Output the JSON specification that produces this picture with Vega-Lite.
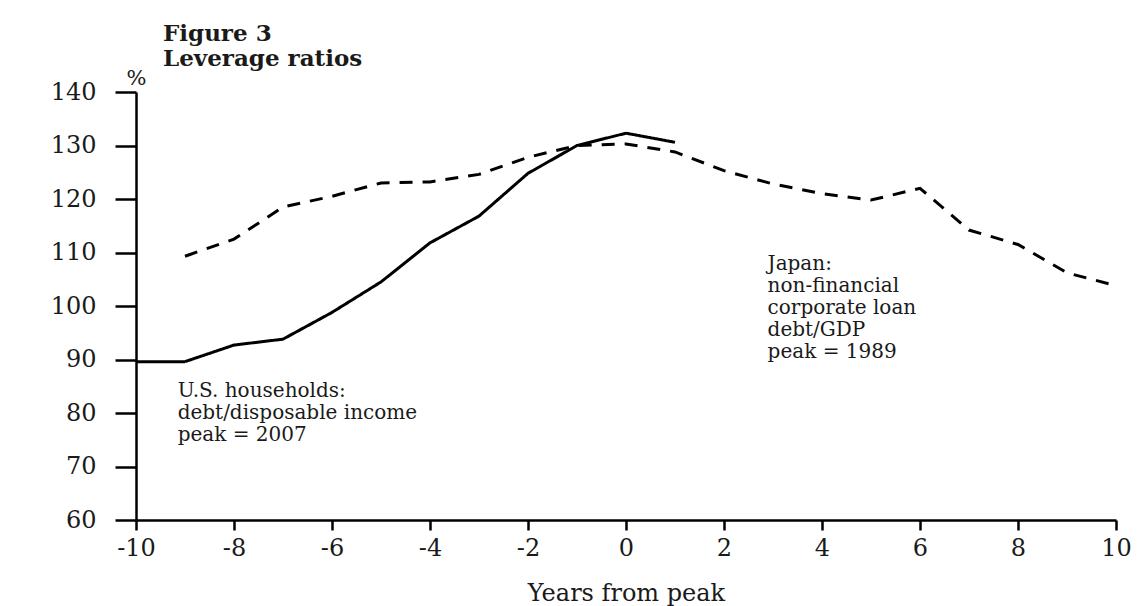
{
  "$schema": "https://vega.github.io/schema/vega-lite/v6.json",
  "autosize": {"type": "none"},
  "width": 980,
  "height": 428,
  "padding": {"left": 136, "top": 92, "right": 26, "bottom": 86},
  "background": "#ffffff",
  "title": {
    "text": ["Figure 3", "Leverage ratios"],
    "anchor": "start",
    "frame": "group",
    "dx": 27,
    "dy": 26,
    "offset": 22,
    "font": "DejaVu Serif",
    "fontSize": 23,
    "fontWeight": "bold",
    "lineHeight": 25,
    "color": "#1a1a1a"
  },
  "datasets": {
    "series": [
      {"year": -10, "value": 89.6, "series": "US households"},
      {"year": -9, "value": 89.6, "series": "US households"},
      {"year": -8, "value": 92.7, "series": "US households"},
      {"year": -7, "value": 93.8, "series": "US households"},
      {"year": -6, "value": 98.8, "series": "US households"},
      {"year": -5, "value": 104.5, "series": "US households"},
      {"year": -4, "value": 111.8, "series": "US households"},
      {"year": -3, "value": 116.8, "series": "US households"},
      {"year": -2, "value": 124.8, "series": "US households"},
      {"year": -1, "value": 130.0, "series": "US households"},
      {"year": 0, "value": 132.3, "series": "US households"},
      {"year": 1, "value": 130.6, "series": "US households"},
      {"year": -9, "value": 109.3, "series": "Japan corporate"},
      {"year": -8, "value": 112.5, "series": "Japan corporate"},
      {"year": -7, "value": 118.5, "series": "Japan corporate"},
      {"year": -6, "value": 120.5, "series": "Japan corporate"},
      {"year": -5, "value": 123.0, "series": "Japan corporate"},
      {"year": -4, "value": 123.2, "series": "Japan corporate"},
      {"year": -3, "value": 124.6, "series": "Japan corporate"},
      {"year": -2, "value": 127.8, "series": "Japan corporate"},
      {"year": -1, "value": 130.0, "series": "Japan corporate"},
      {"year": 0, "value": 130.3, "series": "Japan corporate"},
      {"year": 1, "value": 128.8, "series": "Japan corporate"},
      {"year": 2, "value": 125.3, "series": "Japan corporate"},
      {"year": 3, "value": 122.8, "series": "Japan corporate"},
      {"year": 4, "value": 121.0, "series": "Japan corporate"},
      {"year": 5, "value": 119.8, "series": "Japan corporate"},
      {"year": 6, "value": 122.0, "series": "Japan corporate"},
      {"year": 7, "value": 114.2, "series": "Japan corporate"},
      {"year": 8, "value": 111.5, "series": "Japan corporate"},
      {"year": 9, "value": 106.2, "series": "Japan corporate"},
      {"year": 10, "value": 103.8, "series": "Japan corporate"}
    ],
    "notes": [
      {"year": -9.15, "value": 86.0, "label": "U.S. households:\ndebt/disposable income\npeak = 2007"},
      {"year": 2.89, "value": 109.7, "label": "Japan:\nnon-financial\ncorporate loan\ndebt/GDP\npeak = 1989"}
    ]
  },
  "layer": [
    {
      "data": {"name": "series"},
      "mark": {"type": "line", "color": "#000000", "strokeWidth": 3},
      "encoding": {
        "x": {
          "field": "year", "type": "quantitative",
          "scale": {"domain": [-10, 10], "nice": false, "zero": false},
          "axis": {
            "values": [-10, -8, -6, -4, -2, 0, 2, 4, 6, 8, 10],
            "labelExpr": "datum.value < 0 ? '-' + abs(datum.value) : '' + datum.value",
            "title": "Years from peak",
            "titleFont": "DejaVu Serif",
            "titleFontSize": 24,
            "titleFontWeight": "normal",
            "titleColor": "#1a1a1a",
            "titleBaseline": "alphabetic",
            "titleY": 80,
            "titleX": 490,
            "grid": false,
            "domainColor": "#000000",
            "domainWidth": 2.5,
            "tickColor": "#000000",
            "tickWidth": 2.5,
            "tickSize": 10,
            "labelFont": "DejaVu Serif",
            "labelFontSize": 24,
            "labelColor": "#1a1a1a",
            "labelPadding": 6,
            "labelFlush": false,
            "labelOverlap": false
          }
        },
        "y": {
          "field": "value", "type": "quantitative",
          "scale": {"domain": [60, 140], "nice": false, "zero": false},
          "axis": {
            "values": [60, 70, 80, 90, 100, 110, 120, 130, 140],
            "title": "%",
            "titleAngle": 0,
            "titleX": 0,
            "titleY": -14,
            "titleAlign": "center",
            "titleBaseline": "middle",
            "titleFont": "DejaVu Serif",
            "titleFontSize": 21,
            "titleFontWeight": "normal",
            "titleColor": "#1a1a1a",
            "grid": false,
            "domainColor": "#000000",
            "domainWidth": 2.5,
            "tickColor": "#000000",
            "tickWidth": 2.5,
            "tickSize": 21,
            "labelFont": "DejaVu Serif",
            "labelFontSize": 24,
            "labelColor": "#1a1a1a",
            "labelPadding": 19,
            "labelFlush": false,
            "labelOverlap": false
          }
        },
        "strokeDash": {
          "field": "series", "type": "nominal",
          "scale": {"domain": ["US households", "Japan corporate"], "range": [[1, 0], [13, 10]]},
          "legend": null
        }
      }
    },
    {
      "mark": {"type": "rule", "color": "#000000", "strokeWidth": 2.5},
      "encoding": {"x": {"datum": 0, "type": "quantitative"}}
    },
    {
      "data": {"name": "notes"},
      "mark": {
        "type": "text", "align": "left", "baseline": "top",
        "lineBreak": "\n", "lineHeight": 22,
        "font": "DejaVu Serif", "fontSize": 20, "color": "#1a1a1a"
      },
      "encoding": {
        "x": {"field": "year", "type": "quantitative"},
        "y": {"field": "value", "type": "quantitative"},
        "text": {"field": "label", "type": "nominal"}
      }
    }
  ],
  "config": {"view": {"stroke": null}}
}
